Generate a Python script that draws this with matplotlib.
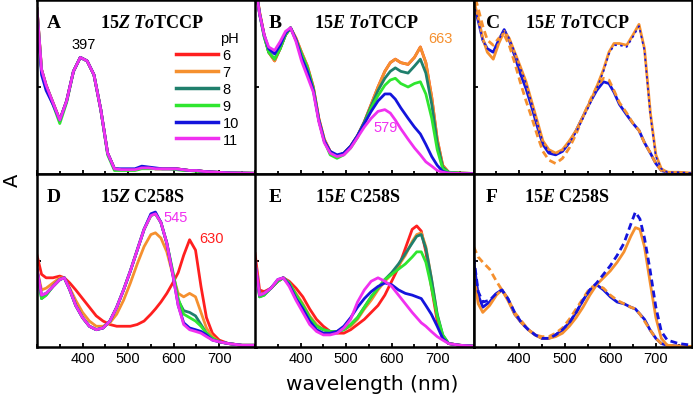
import numpy as np
import matplotlib
matplotlib.use('Agg')
import matplotlib.pyplot as plt
from matplotlib.ticker import MultipleLocator

plt.rcParams['mathtext.fontset'] = 'custom'
plt.rcParams['mathtext.rm'] = 'Liberation Serif:bold'
plt.rcParams['mathtext.bf'] = 'Liberation Serif:bold'
plt.rcParams['mathtext.it'] = 'Liberation Serif:italic:bold'

ph_labels = ['6', '7', '8', '9', '10', '11']
ph_colors = ['#ff1f1f', '#f5902f', '#1f7f6c', '#2fe62f', '#1414dc', '#f030f0']

# ---------------- panel A (15Z ToTCCP) ----------------
wl_a = [300, 310, 320, 335, 350, 365, 380, 395, 410, 425, 440, 455, 470, 485, 500, 515,
        530, 545, 560, 575, 590, 605, 620, 635, 650, 665, 680, 695, 710, 725, 750, 780]
a_base = [0.95, 0.60, 0.51, 0.41, 0.31, 0.42, 0.59, 0.67, 0.65, 0.57, 0.37, 0.12, 0.03, 0.025,
          0.025, 0.025, 0.035, 0.035, 0.03, 0.03, 0.03, 0.03, 0.025, 0.02, 0.02, 0.015, 0.012,
          0.01, 0.008, 0.006, 0.005, 0.004]
a_blue = [0.92, 0.57, 0.48, 0.40, 0.31, 0.42, 0.59, 0.67, 0.65, 0.57, 0.37, 0.12, 0.03, 0.03,
          0.03, 0.03, 0.045, 0.04, 0.035, 0.03, 0.03, 0.03, 0.025, 0.02, 0.02, 0.015, 0.012,
          0.01, 0.008, 0.006, 0.005, 0.004]
a_green = [0.94, 0.59, 0.50, 0.40, 0.29, 0.41, 0.59, 0.67, 0.65, 0.57, 0.37, 0.11, 0.02, 0.02,
           0.02, 0.02, 0.03, 0.03, 0.03, 0.03, 0.03, 0.025, 0.02, 0.02, 0.015, 0.012, 0.01,
           0.01, 0.008, 0.006, 0.005, 0.004]
a_series = [a_base, a_base, a_base, a_green, a_blue, a_base]

# ---------------- panel B (15E ToTCCP) ----------------
wl_b = [300, 310, 320, 330, 343, 355, 367, 378, 390, 402, 415, 428, 440, 452, 465, 480, 495,
        510, 525, 540, 555, 570, 585, 597, 608, 620, 636, 650, 663, 675, 688, 700, 712, 725,
        750, 780]
b_orange = [1.10, 0.93, 0.80, 0.70, 0.65, 0.72, 0.80, 0.84, 0.78, 0.70, 0.62, 0.50, 0.32, 0.20,
            0.13, 0.10, 0.12, 0.16, 0.22, 0.30, 0.40, 0.50, 0.59, 0.64, 0.66, 0.64, 0.63, 0.67,
            0.73, 0.64, 0.44, 0.20, 0.05, 0.01, 0.005, 0.003]
b_teal = [1.10, 0.92, 0.79, 0.70, 0.66, 0.72, 0.80, 0.84, 0.77, 0.69, 0.61, 0.49, 0.31, 0.19,
          0.12, 0.10, 0.12, 0.16, 0.22, 0.30, 0.39, 0.48, 0.55, 0.59, 0.61, 0.59, 0.58, 0.62,
          0.66, 0.58, 0.40, 0.18, 0.04, 0.01, 0.005, 0.003]
b_green = [1.10, 0.92, 0.79, 0.70, 0.66, 0.72, 0.80, 0.84, 0.77, 0.69, 0.61, 0.49, 0.31, 0.19,
           0.11, 0.09, 0.11, 0.15, 0.21, 0.29, 0.38, 0.45, 0.51, 0.54, 0.55, 0.52, 0.50, 0.52,
           0.53, 0.46, 0.32, 0.14, 0.03, 0.01, 0.005, 0.003]
b_blue = [1.10, 0.92, 0.80, 0.72, 0.69, 0.74, 0.81, 0.84, 0.77, 0.67, 0.59, 0.48, 0.31, 0.19,
          0.13, 0.11, 0.12, 0.16, 0.22, 0.29, 0.36, 0.42, 0.46, 0.46, 0.43, 0.38, 0.32, 0.27,
          0.23, 0.17, 0.10, 0.05, 0.015, 0.005, 0.003, 0.002]
b_magenta = [1.10, 0.92, 0.80, 0.73, 0.71, 0.76, 0.82, 0.84, 0.76, 0.65, 0.56, 0.47, 0.30, 0.18,
             0.12, 0.10, 0.11, 0.15, 0.21, 0.27, 0.32, 0.36, 0.37, 0.35, 0.31, 0.26, 0.20, 0.15,
             0.11, 0.07, 0.045, 0.02, 0.01, 0.005, 0.003, 0.002]
b_series = [b_orange, b_orange, b_teal, b_green, b_blue, b_magenta]

# ---------------- panel C (15E ToTCCP, two pH) ----------------
wl_c = wl_b
c_orange_solid = [1.00, 0.90, 0.78, 0.70, 0.66, 0.75, 0.82, 0.78, 0.70, 0.62, 0.53, 0.41, 0.30,
                  0.19, 0.14, 0.12, 0.14, 0.19, 0.25, 0.33, 0.41, 0.50, 0.60, 0.70, 0.75, 0.75,
                  0.74, 0.80, 0.86, 0.72, 0.35, 0.11, 0.03, 0.01, 0.01, 0.005]
c_blue_dash = [0.98, 0.88, 0.77, 0.72, 0.70, 0.77, 0.83, 0.78, 0.70, 0.61, 0.52, 0.40, 0.29,
               0.18, 0.13, 0.11, 0.13, 0.18, 0.24, 0.32, 0.40, 0.49, 0.59, 0.69, 0.74, 0.74,
               0.73, 0.79, 0.85, 0.71, 0.34, 0.10, 0.03, 0.01, 0.01, 0.005]
c_blue_solid = [0.98, 0.88, 0.77, 0.72, 0.70, 0.77, 0.83, 0.77, 0.68, 0.58, 0.49, 0.38, 0.27,
                0.17, 0.12, 0.11, 0.13, 0.18, 0.25, 0.33, 0.41, 0.48, 0.53, 0.52, 0.47, 0.40,
                0.34, 0.29, 0.25, 0.18, 0.12, 0.06, 0.02, 0.01, 0.005, 0.003]
c_orange_dash = [1.05, 0.95, 0.85, 0.77, 0.74, 0.78, 0.80, 0.74, 0.64, 0.53, 0.42, 0.32, 0.22,
                 0.13, 0.08, 0.06, 0.09, 0.15, 0.23, 0.33, 0.42, 0.50, 0.55, 0.54, 0.48, 0.41,
                 0.35, 0.29, 0.25, 0.18, 0.12, 0.06, 0.02, 0.01, 0.005, 0.003]

# ---------------- panel D (15Z C258S) ----------------
wl_d = [300, 310, 320, 335, 350, 360, 372, 385, 400, 415, 430, 445, 460, 475, 490, 505, 520,
        535, 550, 560, 572, 585, 598, 610, 622, 635, 648, 660, 672, 685, 700, 720, 750, 780]
d_red = [0.53, 0.42, 0.40, 0.40, 0.41, 0.40, 0.37, 0.33, 0.28, 0.23, 0.18, 0.15, 0.13, 0.12,
         0.12, 0.12, 0.13, 0.15, 0.19, 0.22, 0.26, 0.31, 0.37, 0.43, 0.53, 0.62, 0.56, 0.35,
         0.17, 0.08, 0.04, 0.02, 0.01, 0.01]
d_orange = [0.45, 0.33, 0.34, 0.37, 0.40, 0.40, 0.34, 0.27, 0.20, 0.15, 0.12, 0.12, 0.14, 0.19,
            0.27, 0.37, 0.48, 0.58, 0.65, 0.66, 0.63, 0.55, 0.42, 0.31, 0.29, 0.31, 0.29, 0.20,
            0.11, 0.06, 0.03, 0.02, 0.01, 0.01]
d_teal = [0.44, 0.28, 0.30, 0.35, 0.39, 0.40, 0.33, 0.24, 0.17, 0.12, 0.10, 0.11, 0.15, 0.23,
          0.33, 0.44, 0.56, 0.68, 0.76, 0.77, 0.72, 0.60, 0.43, 0.27, 0.21, 0.20, 0.18, 0.13,
          0.08, 0.05, 0.03, 0.02, 0.01, 0.01]
d_green = [0.44, 0.28, 0.30, 0.35, 0.39, 0.40, 0.33, 0.24, 0.17, 0.12, 0.10, 0.11, 0.15, 0.23,
           0.33, 0.44, 0.56, 0.68, 0.76, 0.77, 0.72, 0.60, 0.44, 0.28, 0.19, 0.17, 0.15, 0.12,
           0.08, 0.05, 0.03, 0.02, 0.01, 0.01]
d_blue = [0.45, 0.30, 0.31, 0.35, 0.39, 0.40, 0.33, 0.24, 0.17, 0.12, 0.10, 0.11, 0.15, 0.23,
          0.33, 0.44, 0.56, 0.68, 0.77, 0.78, 0.72, 0.60, 0.42, 0.24, 0.14, 0.11, 0.10, 0.09,
          0.07, 0.04, 0.03, 0.02, 0.01, 0.01]
d_magenta = [0.45, 0.30, 0.31, 0.35, 0.39, 0.40, 0.33, 0.24, 0.17, 0.12, 0.10, 0.11, 0.15, 0.23,
             0.33, 0.44, 0.56, 0.68, 0.76, 0.77, 0.72, 0.60, 0.42, 0.24, 0.13, 0.10, 0.09, 0.08,
             0.06, 0.04, 0.03, 0.02, 0.01, 0.01]
d_series = [d_red, d_orange, d_teal, d_green, d_blue, d_magenta]

# ---------------- panel E (15E C258S) ----------------
wl_e = [300, 310, 320, 335, 350, 362, 375, 390, 405, 420, 435, 450, 465, 480, 495, 510, 525,
        540, 555, 570, 585, 600, 615, 630, 645, 655, 665, 675, 687, 700, 712, 725, 750, 780]
e_red = [0.54, 0.33, 0.32, 0.34, 0.38, 0.40, 0.38, 0.34, 0.29, 0.22, 0.16, 0.12, 0.09, 0.08,
         0.08, 0.10, 0.13, 0.16, 0.20, 0.24, 0.30, 0.38, 0.46, 0.57, 0.68, 0.70, 0.67, 0.55,
         0.35, 0.15, 0.05, 0.02, 0.01, 0.005]
e_orange = [0.50, 0.31, 0.31, 0.34, 0.38, 0.40, 0.37, 0.31, 0.25, 0.18, 0.13, 0.10, 0.09, 0.09,
            0.10, 0.12, 0.16, 0.22, 0.27, 0.33, 0.38, 0.42, 0.47, 0.53, 0.61, 0.65, 0.66, 0.58,
            0.40, 0.18, 0.06, 0.02, 0.01, 0.005]
e_teal = [0.48, 0.29, 0.30, 0.34, 0.38, 0.40, 0.37, 0.30, 0.24, 0.17, 0.12, 0.10, 0.09, 0.09,
          0.10, 0.13, 0.17, 0.23, 0.29, 0.34, 0.39, 0.43, 0.48, 0.54, 0.60, 0.64, 0.65, 0.57,
          0.40, 0.19, 0.07, 0.02, 0.01, 0.005]
e_green = [0.48, 0.29, 0.30, 0.34, 0.38, 0.40, 0.37, 0.30, 0.24, 0.17, 0.12, 0.10, 0.09, 0.09,
           0.10, 0.13, 0.17, 0.23, 0.29, 0.34, 0.39, 0.42, 0.45, 0.48, 0.52, 0.55, 0.55, 0.49,
           0.35, 0.18, 0.07, 0.02, 0.01, 0.005]
e_blue = [0.49, 0.30, 0.31, 0.34, 0.39, 0.40, 0.36, 0.28, 0.22, 0.15, 0.10, 0.08, 0.08, 0.09,
          0.12, 0.17, 0.23, 0.28, 0.32, 0.35, 0.37, 0.36, 0.33, 0.31, 0.30, 0.29, 0.28, 0.24,
          0.19, 0.12, 0.05, 0.02, 0.01, 0.005]
e_magenta = [0.49, 0.30, 0.31, 0.34, 0.39, 0.40, 0.35, 0.27, 0.20, 0.13, 0.09, 0.07, 0.07, 0.08,
             0.11, 0.16, 0.26, 0.33, 0.38, 0.40, 0.38, 0.35, 0.30, 0.25, 0.20, 0.17, 0.14, 0.12,
             0.09, 0.06, 0.04, 0.02, 0.01, 0.005]
e_series = [e_red, e_orange, e_teal, e_green, e_blue, e_magenta]

# ---------------- panel F (15E C258S, two pH) ----------------
wl_f = wl_e
f_blue_solid = [0.50, 0.30, 0.23, 0.26, 0.31, 0.33, 0.28, 0.19, 0.14, 0.10, 0.07, 0.05, 0.05,
                0.07, 0.10, 0.14, 0.20, 0.27, 0.33, 0.36, 0.33, 0.29, 0.26, 0.25, 0.23, 0.22,
                0.19, 0.16, 0.10, 0.05, 0.02, 0.01, 0.005, 0.003]
f_orange_dash = [0.58, 0.52, 0.49, 0.45, 0.38, 0.33, 0.28, 0.20, 0.15, 0.10, 0.07, 0.06, 0.06,
                 0.08, 0.11, 0.16, 0.22, 0.28, 0.34, 0.36, 0.34, 0.30, 0.27, 0.25, 0.23, 0.22,
                 0.19, 0.15, 0.10, 0.05, 0.02, 0.01, 0.005, 0.003]
f_orange_solid = [0.42, 0.25, 0.20, 0.24, 0.30, 0.33, 0.27, 0.19, 0.14, 0.10, 0.07, 0.05, 0.05,
                  0.06, 0.08, 0.12, 0.17, 0.23, 0.30, 0.36, 0.40, 0.44, 0.49, 0.55, 0.64, 0.69,
                  0.68, 0.58, 0.38, 0.17, 0.05, 0.01, 0.005, 0.003]
f_blue_dash = [0.52, 0.32, 0.26, 0.27, 0.31, 0.33, 0.28, 0.20, 0.14, 0.10, 0.07, 0.05, 0.05,
               0.07, 0.10, 0.14, 0.20, 0.27, 0.33, 0.37, 0.42, 0.47, 0.53, 0.60, 0.71, 0.78,
               0.74, 0.63, 0.45, 0.23, 0.09, 0.04, 0.02, 0.01]

orange = ph_colors[1]
blue = ph_colors[4]

fig = plt.figure(figsize=(6.93, 4.02), dpi=100)
W = 0.3155
lefts = [0.0534, 0.368, 0.6835]
top_b, top_h = 0.5647, 0.4328
bot_b, bot_h = 0.1343, 0.4304
axs = {}
for i, key in enumerate('ABC'):
    axs[key] = fig.add_axes([lefts[i], top_b, W, top_h])
for i, key in enumerate('DEF'):
    axs[key] = fig.add_axes([lefts[i], bot_b, W, bot_h])

lw = 2.0
for lab, col, ys in zip(ph_labels, ph_colors, a_series):
    axs['A'].plot(wl_a, ys, color=col, lw=lw, label=lab)
for col, ys in zip(ph_colors, b_series):
    axs['B'].plot(wl_b, ys, color=col, lw=lw)
for col, ys in zip(ph_colors, d_series):
    axs['D'].plot(wl_d, ys, color=col, lw=lw)
for col, ys in zip(ph_colors, e_series):
    axs['E'].plot(wl_e, ys, color=col, lw=lw)

axC = axs['C']
axC.plot(wl_c, c_blue_solid, color=blue, lw=lw)
axC.plot(wl_c, c_orange_dash, color=orange, lw=lw, dashes=(2.5, 1.5))
axC.plot(wl_c, c_orange_solid, color=orange, lw=lw)
axC.plot(wl_c, c_blue_dash, color=blue, lw=1.2, dashes=(1.5, 2))

axF = axs['F']
axF.plot(wl_f, f_blue_solid, color=blue, lw=lw)
axF.plot(wl_f, f_orange_dash, color=orange, lw=lw, dashes=(2.5, 1.5))
axF.plot(wl_f, f_orange_solid, color=orange, lw=lw)
axF.plot(wl_f, f_blue_dash, color=blue, lw=lw, dashes=(2.5, 1.5))

titles = {'A': (r'$15Z\ To\mathrm{TCCP}$', 0.046, 0.29),
          'B': (r'$15E\ To\mathrm{TCCP}$', 0.06, 0.27),
          'C': (r'$15E\ To\mathrm{TCCP}$', 0.055, 0.236),
          'D': (r'$15Z\ \mathrm{C258S}$', 0.046, 0.29),
          'E': (r'$15E\ \mathrm{C258S}$', 0.06, 0.275),
          'F': (r'$15E\ \mathrm{C258S}$', 0.055, 0.23)}

for key, ax in axs.items():
    ax.set_xlim(300, 780)
    ax.set_ylim(0, 1)
    ax.xaxis.set_major_locator(MultipleLocator(100))
    ax.xaxis.set_minor_locator(MultipleLocator(50))
    ax.set_yticks([0.5])
    ax.set_yticklabels([])
    ax.tick_params(axis='both', which='both', direction='in', width=1.3)
    ax.tick_params(axis='both', which='major', length=3)
    ax.tick_params(axis='x', which='minor', length=2)
    ax.tick_params(axis='x', labelsize=10.5, pad=3)
    for s in ax.spines.values():
        s.set_linewidth(1.8)
    if key in 'ABC':
        ax.set_xticklabels([])
    else:
        ax.set_xticks([400, 500, 600, 700])
        for t in ax.get_xticklabels():
            t.set_family('Liberation Sans')
    txt, lx, tx = titles[key]
    ax.text(lx, 0.845, key, transform=ax.transAxes, fontsize=14, fontweight='bold',
            family='Liberation Serif', va='baseline')
    ax.text(tx, 0.845, txt, transform=ax.transAxes, fontsize=13, va='baseline')

leg = axs['A'].legend(title='pH', loc='upper right', bbox_to_anchor=(0.97, 0.88),
                      frameon=False, handlelength=2.9, handletextpad=0.3,
                      labelspacing=0.2, borderpad=0.2,
                      prop={'family': 'Liberation Sans', 'size': 10.5},
                      alignment='right')
leg.get_title().set_fontsize(10.5)
leg.get_title().set_family('Liberation Sans')
for h in leg.legend_handles:
    h.set_linewidth(2.5)

ann = dict(fontsize=10.5, family='Liberation Sans', ha='center', va='center')
axs['A'].text(402, 0.75, '397', color='black', **ann)
axs['B'].text(707, 0.78, '663', color=orange, **ann)
axs['B'].text(587, 0.27, '579', color=ph_colors[5], **ann)
axs['D'].text(604, 0.75, '545', color=ph_colors[5], **ann)
axs['D'].text(682, 0.63, '630', color=ph_colors[0], **ann)

fig.text(12 / 693, 0.552, 'A', rotation=90, fontsize=14, ha='center', va='center')
fig.text(372 / 693, 1 - 385 / 402, 'wavelength (nm)', fontsize=14.5, ha='center', va='center')

plt.savefig('out.png', dpi=100)
